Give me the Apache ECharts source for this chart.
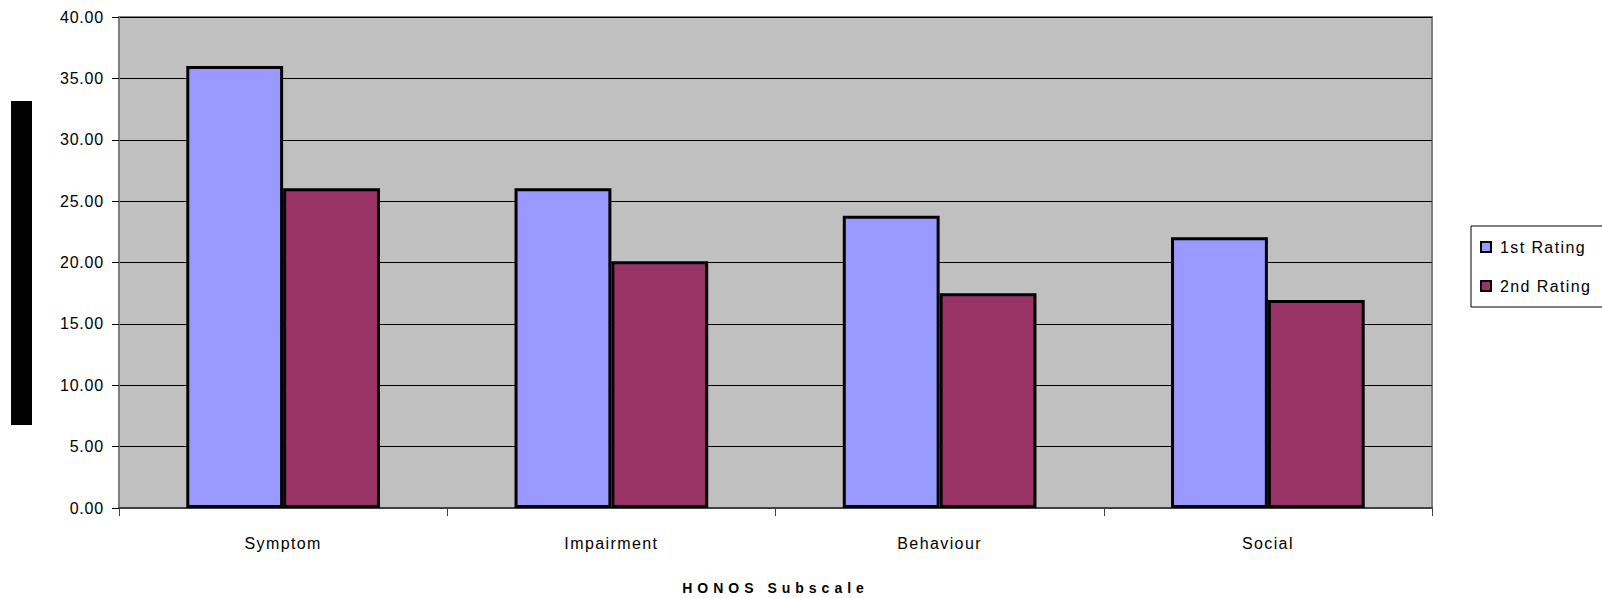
<!DOCTYPE html>
<html>
<head>
<meta charset="utf-8">
<script src="https://cdn.jsdelivr.net/npm/echarts@6/dist/echarts.min.js"></script>
<style>
html,body{margin:0;padding:0;background:#fff;}
#chart{width:1602px;height:598px;}
</style>
</head>
<body>
<div id="chart"></div>
<script>
const categories = ['Symptom', 'Impairment', 'Behaviour', 'Social'];
const firstRating = [36.0, 26.05, 23.8, 22.05];
const secondRating = [26.05, 20.1, 17.5, 16.95];
const seriesNames = ['1st Rating', '2nd Rating'];
const axisTitle = 'HONOS Subscale';

const chart = echarts.init(document.getElementById('chart'), null, {renderer: 'svg'});
const font = 'Liberation Sans, Arial, sans-serif';
const option = {
  animation: false,
  backgroundColor: '#ffffff',
  textStyle: {fontFamily: font},
  grid: {
    left: 119, top: 17, right: 170, bottom: 90,
    outerBoundsMode: 'none',
    containLabel: false,
    show: true, backgroundColor: '#C0C0C0', borderColor: '#808080', borderWidth: 2
  },
  legend: {
    orient: 'vertical',
    left: 1471, top: 226,
    data: seriesNames,
    icon: 'rect',
    itemWidth: 10, itemHeight: 10,
    itemGap: 23,
    padding: [13, 26, 13, 9],
    borderColor: '#000', borderWidth: 1,
    textStyle: {fontFamily: font, fontSize: 16, color: '#000', padding: [0, 0, 0, 4]},
    itemStyle: {borderColor: '#000', borderWidth: 2}
  },
  xAxis: {
    type: 'category',
    data: categories,
    name: axisTitle,
    nameLocation: 'middle',
    nameGap: 73,
    nameTextStyle: {fontFamily: font, fontSize: 14, fontWeight: 'bold', color: '#000'},
    axisLine: {lineStyle: {color: '#404040', width: 2}},
    axisTick: {show: true, length: 8, lineStyle: {color: '#404040', width: 1}},
    axisLabel: {fontFamily: font, fontSize: 16, color: '#000', margin: 27}
  },
  yAxis: {
    type: 'value',
    min: 0, max: 40, interval: 5,
    axisLine: {show: true, lineStyle: {color: '#808080', width: 2}},
    axisTick: {show: true, length: 7, lineStyle: {color: '#000', width: 1}},
    axisLabel: {fontFamily: font, fontSize: 16, color: '#000', margin: 15,
      formatter: v => v.toFixed(2)},
    splitLine: {show: true, lineStyle: {color: '#000', width: 1}}
  },
  graphic: [{
    type: 'rect', left: 11, top: 101,
    shape: {width: 21, height: 324},
    style: {fill: '#000'}
  }],
  series: [
    {name: seriesNames[0], type: 'bar', data: firstRating, barGap: '0%', barCategoryGap: '41%',
     itemStyle: {color: '#9999FF', borderColor: '#000', borderWidth: 3}},
    {name: seriesNames[1], type: 'bar', data: secondRating, barGap: '0%', barCategoryGap: '41%',
     itemStyle: {color: '#993366', borderColor: '#000', borderWidth: 3}}
  ]
};
chart.setOption(option);

function spaceText() {
  const texts = document.querySelectorAll('#chart svg text');
  texts.forEach(t => {
    const s = t.textContent;
    if (s === axisTitle) t.style.letterSpacing = '5px';
    else if (/^\d+\.\d\d$/.test(s)) t.style.letterSpacing = '0.8px';
    else t.style.letterSpacing = '1.4px';
  });
}
spaceText();
chart.on('finished', spaceText);
</script>
</body>
</html>
